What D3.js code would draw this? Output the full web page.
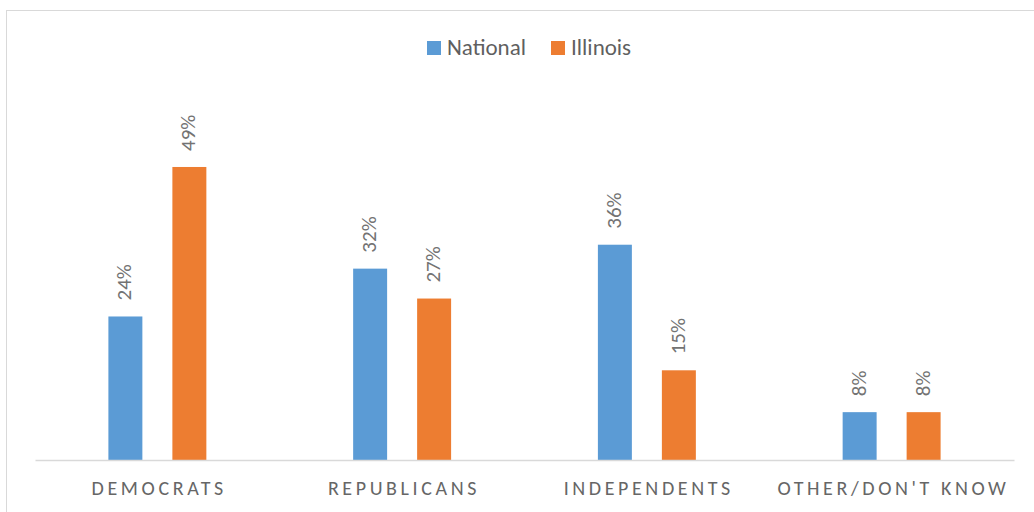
<!DOCTYPE html>
<html>
<head>
<meta charset="utf-8">
<script src="https://cdnjs.cloudflare.com/ajax/libs/d3/7.8.5/d3.min.js"></script>
<style>
  body { margin: 0; background: #fff; }
</style>
</head>
<body>
<div id="chart-area"></div>
<script>
var categories = ["DEMOCRATS", "REPUBLICANS", "INDEPENDENTS", "OTHER/DON'T KNOW"];
var series = ["National", "Illinois"];
var nationalValues = [0.24, 0.32, 0.36, 0.08];
var illinoisValues = [0.49, 0.27, 0.15, 0.08];
var colors = ["#5B9BD5", "#ED7D31"];

var font = "Carlito, Lato, sans-serif";

var svg = d3.select("#chart-area").append("svg")
    .attr("width", 1034)
    .attr("height", 512);

// Borde del gráfico
svg.append("rect")
    .attr("x", 6.5)
    .attr("y", 10.5)
    .attr("width", 1060)
    .attr("height", 540)
    .attr("fill", "#fff")
    .attr("stroke", "#D9D9D9")
    .attr("stroke-width", 1);

var x0 = d3.scaleBand()
    .domain(categories)
    .range([35, 1014]);

var x1 = d3.scaleBand()
    .domain(series)
    .range([0, x0.bandwidth()])
    .paddingInner(0.469)
    .paddingOuter(1.147);

var y = d3.scaleLinear()
    .domain([0, 0.6])
    .range([460, 101.2]);

var rows = categories.map((c, i) => ({
    category: c,
    values: [
        { key: "National", value: nationalValues[i] },
        { key: "Illinois", value: illinoisValues[i] }
    ]
}));

var groups = svg.selectAll("g.cat")
    .data(rows)
    .enter()
    .append("g")
    .attr("class", "cat")
    .attr("transform", d => "translate(" + x0(d.category) + ",0)");

groups.selectAll("rect.bar")
    .data(d => d.values)
    .enter()
    .append("rect")
    .attr("class", "bar")
    .attr("x", d => x1(d.key))
    .attr("y", d => y(d.value))
    .attr("width", x1.bandwidth())
    .attr("height", d => y(0) - y(d.value))
    .attr("fill", (d, i) => colors[i]);

// Etiquetas de valores (rotadas)
groups.selectAll("text.bar-label")
    .data(d => d.values)
    .enter()
    .append("text")
    .attr("class", "bar-label")
    .attr("transform", d => "translate(" + (x1(d.key) + x1.bandwidth() / 2) + "," + (y(d.value) - 16) + ") rotate(-90)")
    .attr("dy", "0.28em")
    .attr("text-anchor", "start")
    .attr("font-family", font)
    .attr("font-size", "21px")
    .attr("fill", "#737373")
    .text(d => Math.round(d.value * 100) + "%");

// Eje X
var xAxis = svg.append("g")
    .attr("transform", "translate(0," + y(0) + ")")
    .call(d3.axisBottom(x0).tickSize(0).tickPadding(0));

xAxis.select(".domain")
    .attr("stroke", "#D9D9D9")
    .attr("stroke-width", 1.5);

xAxis.selectAll("text")
    .attr("y", 35)
    .attr("dy", 0)
    .attr("dx", "1.8px")
    .attr("font-family", font)
    .attr("font-size", "20px")
    .attr("letter-spacing", "3.6px")
    .attr("fill", "#666666");

// Leyenda
var legendX = [427, 551];
var legend = svg.selectAll("g.legend")
    .data(series)
    .enter()
    .append("g")
    .attr("class", "legend")
    .attr("transform", (d, i) => "translate(" + legendX[i] + ",41)");

legend.append("rect")
    .attr("width", 14)
    .attr("height", 14)
    .attr("fill", (d, i) => colors[i]);

legend.append("text")
    .attr("x", 20)
    .attr("y", 14)
    .attr("font-family", font)
    .attr("font-size", "23px")
    .attr("fill", "#5f5f5f")
    .text(d => d);
</script>
</body>
</html>
